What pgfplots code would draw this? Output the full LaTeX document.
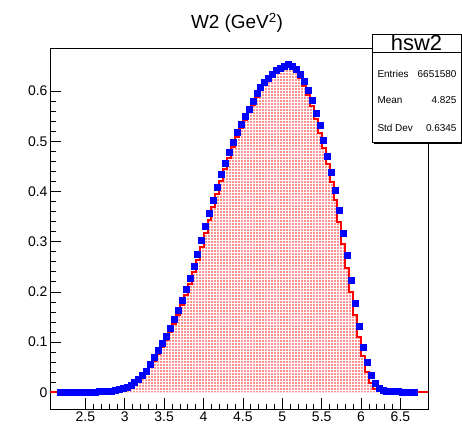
\documentclass[border=0pt]{standalone}
\usepackage{fontspec}
\setmainfont{Liberation Sans}
\usepackage{pgfplots}
\pgfplotsset{compat=1.18}
\usetikzlibrary{patterns}
\pgfdeclarepatternformonly{rootdots}{\pgfpointorigin}{\pgfpoint{3.3bp}{3.3bp}}{\pgfpoint{3.3bp}{3.3bp}}{%
  \pgfpathrectangle{\pgfpoint{0.5bp}{0.5bp}}{\pgfpoint{1.45bp}{1.45bp}}\pgfusepath{fill}}
\pgfplotstableread{
x y
2.05 0
2.10 0
2.15 0.0003
2.20 0.0003
2.25 0.0003
2.30 0.0003
2.35 0.0003
2.40 0.0004
2.45 0.0004
2.50 0.0005
2.55 0.0006
2.60 0.0008
2.65 0.0010
2.70 0.0014
2.75 0.0019
2.80 0.0026
2.85 0.0036
2.90 0.0050
2.95 0.0069
3.00 0.0095
3.05 0.0130
3.10 0.0175
3.15 0.0232
3.20 0.0302
3.25 0.0385
3.30 0.0495
3.35 0.0630
3.40 0.0770
3.45 0.0910
3.50 0.1050
3.55 0.1200
3.60 0.1365
3.65 0.1545
3.70 0.1735
3.75 0.1940
3.80 0.2160
3.85 0.2390
3.90 0.2635
3.95 0.2895
4.00 0.3170
4.05 0.3435
4.10 0.3690
4.15 0.3955
4.20 0.4215
4.25 0.4450
4.30 0.4670
4.35 0.4880
4.40 0.5085
4.45 0.5270
4.50 0.5430
4.55 0.5580
4.60 0.5725
4.65 0.5880
4.70 0.6020
4.75 0.6130
4.80 0.6220
4.85 0.6290
4.90 0.6385
4.95 0.6420
5.00 0.6470
5.05 0.6525
5.10 0.6485
5.15 0.6395
5.20 0.6270
5.25 0.6110
5.30 0.5920
5.35 0.5695
5.40 0.5445
5.45 0.5175
5.50 0.4870
5.55 0.4545
5.60 0.4200
5.65 0.3825
5.70 0.3400
5.75 0.2950
5.80 0.2480
5.85 0.2000
5.90 0.1540
5.95 0.1105
6.00 0.0720
6.05 0.0400
6.10 0.0180
6.15 0.0070
6.20 0.0030
6.25 0.0015
6.30 0.0010
6.35 0.0007
6.40 0.0005
6.45 0.0004
6.50 0.0003
6.55 0.0003
6.60 0.0002
6.65 0.0002
6.70 0
6.75 0
6.80 0
6.85 0
}\redtab
\pgfplotstableread{
x y
2.175 0.0003
2.225 0.0003
2.275 0.0003
2.325 0.0003
2.375 0.0004
2.425 0.0004
2.475 0.0005
2.525 0.0006
2.575 0.0007
2.625 0.0009
2.675 0.0012
2.725 0.0016
2.775 0.0022
2.825 0.0030
2.875 0.0042
2.925 0.0058
2.975 0.0080
3.025 0.0110
3.075 0.0150
3.125 0.0200
3.175 0.0265
3.225 0.0340
3.275 0.0430
3.325 0.0560
3.375 0.0700
3.425 0.0840
3.475 0.0980
3.525 0.1120
3.575 0.1280
3.625 0.1450
3.675 0.1640
3.725 0.1830
3.775 0.2050
3.825 0.2270
3.875 0.2510
3.925 0.2760
3.975 0.3030
4.025 0.3310
4.075 0.3560
4.125 0.3820
4.175 0.4090
4.225 0.4340
4.275 0.4560
4.325 0.4780
4.375 0.4980
4.425 0.5190
4.475 0.5350
4.525 0.5510
4.575 0.5650
4.625 0.5800
4.675 0.5960
4.725 0.6080
4.775 0.6180
4.825 0.6260
4.875 0.6340
4.925 0.6410
4.975 0.6460
5.025 0.6500
5.075 0.6530
5.125 0.6500
5.175 0.6430
5.225 0.6340
5.275 0.6200
5.325 0.6020
5.375 0.5820
5.425 0.5570
5.475 0.5320
5.525 0.5030
5.575 0.4710
5.625 0.4380
5.675 0.4020
5.725 0.3630
5.775 0.3170
5.825 0.2730
5.875 0.2230
5.925 0.1770
5.975 0.1310
6.025 0.0900
6.075 0.0600
6.125 0.0340
6.175 0.0180
6.225 0.0080
6.275 0.0045
6.325 0.0030
6.375 0.0022
6.425 0.0017
6.475 0.0013
6.525 0.0010
6.575 0.0008
6.625 0.0006
6.675 0.0005
}\bluetab
\begin{document}
\begin{tikzpicture}
\begin{axis}[
  scale only axis,
  width=378bp, height=361bp,
  xmin=2.05, xmax=6.85,
  ymin=-0.0333, ymax=0.686,
  xtick={2.5,3,3.5,4,4.5,5,5.5,6,6.5},
  ytick={0,0.1,0.2,0.3,0.4,0.5,0.6},
  minor x tick num=4, minor y tick num=4,
  xtick pos=bottom, ytick pos=left,
  tick align=inside,
  major tick length=11bp, minor tick length=5.5bp,
  every tick/.style={black, line width=0.8bp},
  axis line style={line width=0.9bp},
  tick label style={font=\fontsize{14}{16}\selectfont},
  /pgf/number format/assume math mode=true,
  /pgf/number format/fixed,
  yticklabel style={xshift=1bp},
  xticklabel style={yshift=1bp},
  clip=true,
]
\addplot[only marks, mark=square*, mark size=3bp, blue, mark options={draw=blue, fill=blue}] table[x=x,y=y] {\bluetab};
\addplot[const plot, draw=none, pattern=rootdots, pattern color=red] table[x=x,y=y] {\redtab} \closedcycle;
\addplot[const plot, red, line width=2bp] table[x=x,y=y] {\redtab};
\coordinate (O) at (rel axis cs:0,0);
\end{axis}
\useasboundingbox ([shift={(-50bp,-14bp)}]O) rectangle ([shift={(412bp,409bp)}]O);
% title
\node[font=\fontsize{19}{22}\selectfont] at ([shift={(187bp,386bp)}]O) {W2 (GeV\textsuperscript{2})};
% stats box
\fill[black] ([shift={(324bp,265.5bp)}]O) rectangle ([shift={(412bp,267bp)}]O);
\draw[line width=0.9bp, fill=white] ([shift={(322bp,267bp)}]O) rectangle ([shift={(411bp,375bp)}]O);
\draw[line width=0.9bp] ([shift={(322bp,357bp)}]O) -- ([shift={(411bp,357bp)}]O);
\node[font=\fontsize{22}{24}\selectfont] at ([shift={(366.5bp,366bp)}]O) {hsw2};
\node[font=\fontsize{10}{12}\selectfont, anchor=west] at ([shift={(324bp,335bp)}]O) {Entries};
\node[font=\fontsize{10}{12}\selectfont, anchor=east] at ([shift={(410bp,335bp)}]O) {6651580};
\node[font=\fontsize{10}{12}\selectfont, anchor=west] at ([shift={(324bp,309bp)}]O) {Mean};
\node[font=\fontsize{10}{12}\selectfont, anchor=east] at ([shift={(410bp,309bp)}]O) {4.825};
\node[font=\fontsize{10}{12}\selectfont, anchor=west] at ([shift={(324bp,281bp)}]O) {Std Dev};
\node[font=\fontsize{10}{12}\selectfont, anchor=east] at ([shift={(410bp,281bp)}]O) {0.6345};
\end{tikzpicture}
\end{document}
